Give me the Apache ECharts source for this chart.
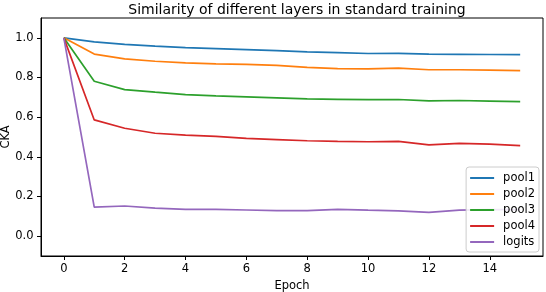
<!DOCTYPE html>
<html>
<head>
<meta charset="utf-8">
<script src="https://cdn.jsdelivr.net/npm/echarts@6/dist/echarts.min.js"></script>
<style>html,body{margin:0;padding:0;background:#fff;}#c{width:546px;height:292px;}</style>
</head>
<body>
<div id="c"></div>
<script>
const epochs = [0,1,2,3,4,5,6,7,8,9,10,11,12,13,14,15];
const pool1 = [1.0,0.980,0.967,0.958,0.951,0.946,0.941,0.936,0.929,0.925,0.921,0.922,0.918,0.917,0.916,0.915];
const pool2 = [1.0,0.918,0.894,0.882,0.874,0.869,0.866,0.861,0.851,0.845,0.843,0.847,0.839,0.839,0.837,0.835];
const pool3 = [1.0,0.781,0.739,0.726,0.714,0.707,0.702,0.697,0.692,0.690,0.688,0.689,0.682,0.684,0.681,0.678];
const pool4 = [1.0,0.586,0.544,0.519,0.509,0.503,0.493,0.487,0.481,0.478,0.476,0.478,0.460,0.468,0.464,0.457];
const logits = [1.0,0.146,0.152,0.141,0.135,0.135,0.132,0.129,0.129,0.135,0.131,0.128,0.120,0.131,0.134,0.134];
const seriesNames = ['pool1','pool2','pool3','pool4','logits'];
const seriesData = [pool1,pool2,pool3,pool4,logits];
const colors = ['#1f77b4','#ff7f0e','#2ca02c','#d62728','#9467bd'];
const xTicks = [0,2,4,6,8,10,12,14];
const yTicks = [0.0,0.2,0.4,0.6,0.8,1.0];

const chart = echarts.init(document.getElementById('c'), null, {renderer:'canvas'});
const font = 'DejaVu Sans';
const fs = 11.5;
chart.setOption({
  animation:false,
  backgroundColor:'#fff',
  color:colors,
  title:{text:'Similarity of different layers in standard training', left:292, top:-2, textAlign:'center',
    textStyle:{fontFamily:font,fontSize:14,fontWeight:'normal',color:'#000'}},
  grid:{left:41,right:3,top:18,bottom:36,outerBoundsMode:'none',containLabel:false,show:true,borderColor:'#000',borderWidth:1,backgroundColor:'transparent'},
  legend:{
    orient:'vertical', right:7, bottom:40, data:seriesNames, z:20,
    backgroundColor:'rgba(255,255,255,0.85)', borderColor:'#cccccc', borderWidth:1, borderRadius:3,
    padding:[5,4,4,4], itemGap:4, itemWidth:24, itemHeight:2, icon:'rect',
    textStyle:{fontFamily:font,fontSize:fs,color:'#000',padding:[0,0,0,4]}
  },
  xAxis:{type:'value',min:-0.75,max:15.75,
    name:'Epoch',nameLocation:'middle',nameGap:23,nameTextStyle:{fontFamily:font,fontSize:fs,color:'#000'},
    axisLine:{show:true,onZero:false,lineStyle:{color:'#000',width:1}},
    axisTick:{show:true,length:4,inside:false,customValues:xTicks,lineStyle:{color:'#000'}},
    axisLabel:{customValues:xTicks,fontFamily:font,fontSize:fs,color:'#000',margin:7,formatter:v=>String(v)},
    splitLine:{show:false}},
  yAxis:{type:'value',min:-0.1,max:1.1,
    name:'CKA',nameLocation:'middle',nameGap:29,nameRotate:90,nameMoveOverlap:false,nameTextStyle:{fontFamily:font,fontSize:fs,color:'#000'},
    axisLine:{show:true,onZero:false,lineStyle:{color:'#000',width:1}},
    axisTick:{show:true,length:4,customValues:yTicks,lineStyle:{color:'#000'}},
    axisLabel:{customValues:yTicks,fontFamily:font,fontSize:fs,color:'#000',margin:7.5,formatter:v=>v.toFixed(1)},
    splitLine:{show:false}},
  series:seriesNames.map((n,i)=>({
    name:n,type:'line',showSymbol:false,symbol:'none',
    data:epochs.map((e,j)=>[e,seriesData[i][j]]),
    lineStyle:{width:1.7,color:colors[i]},itemStyle:{color:colors[i]},z:2
  }))
});
</script>
</body>
</html>
